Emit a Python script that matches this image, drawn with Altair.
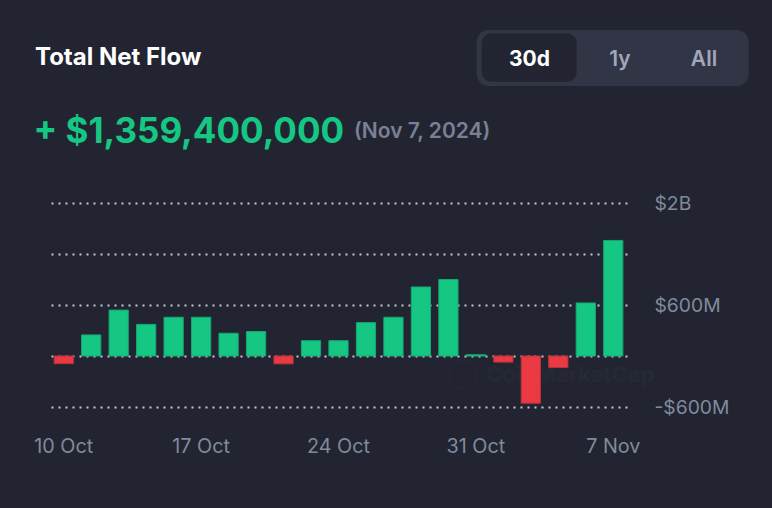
import altair as alt
import pandas as pd

# ---------------- data ----------------
days = ["10 Oct", "11 Oct", "14 Oct", "15 Oct", "16 Oct", "17 Oct", "18 Oct",
        "21 Oct", "22 Oct", "23 Oct", "24 Oct", "25 Oct", "28 Oct", "29 Oct",
        "30 Oct", "31 Oct", "1 Nov", "4 Nov", "5 Nov", "6 Nov", "7 Nov"]
net_flow = [-90e6, 248e6, 540e6, 372e6, 456e6, 456e6, 268e6,
            288e6, -92e6, 180e6, 180e6, 393e6, 456e6, 812e6,
            900e6, 15e6, -72e6, -556e6, -136e6, 624e6, 1359.4e6]
x_tick_labels = ["10 Oct", "17 Oct", "24 Oct", "31 Oct", "7 Nov"]
y_tick_values = [-6e8, 0, 6e8, 1.2e9, 1.8e9]
y_tick_labels = ["-$600M", "", "$600M", "", "$2B"]
y_domain = [-6e8, 1.8e9]

title_text = "Total Net Flow"
headline_value = "+ $1,359,400,000"
headline_date = "(Nov 7, 2024)"
toggle_labels = ["30d", "1y", "All"]
watermark = "CoinMarketCap"

BG = "#222531"
GREEN = "#16c784"
RED = "#ea3943"
GRAY = "#808a9d"
FONT = "Inter"

df = pd.DataFrame({"day": days, "flow": net_flow})
df["sign"] = ["pos" if v >= 0 else "neg" for v in net_flow]

label_expr = " : ".join(
    f"datum.value == {v} ? '{l}'" for v, l in zip(y_tick_values, y_tick_labels)
) + " : ''"

base = alt.Chart(df)

bars = base.mark_bar(strokeWidth=1).encode(
    x=alt.X("day:N", sort=days, scale=alt.Scale(paddingInner=0.3),
            axis=alt.Axis(values=x_tick_labels, title=None, labelAngle=0,
                          ticks=False, tickSize=0, domain=False,
                          labelPadding=29, labelFontSize=19.8, labelColor=GRAY,
                          labelFont=FONT, grid=False)),
    y=alt.Y("flow:Q", scale=alt.Scale(domain=y_domain, nice=False, zero=True),
            axis=alt.Axis(values=y_tick_values, orient="right", title=None,
                          labelExpr=label_expr, ticks=False, tickSize=0,
                          domain=False, labelPadding=27, labelFontSize=19.3,
                          labelColor=GRAY, labelFont=FONT, labelAlign="left",
                          grid=True, gridDash=[2, 5], gridColor="#d8dbe1",
                          gridWidth=1.8, gridOpacity=0.9)),
    y2=alt.datum(0),
    color=alt.Color("sign:N", scale=alt.Scale(domain=["pos", "neg"], range=[GREEN, RED]), legend=None),
    stroke=alt.Stroke("sign:N", scale=alt.Scale(domain=["pos", "neg"], range=["#14a873", "#b8333b"]), legend=None),
)

def one(text):
    return alt.Chart(pd.DataFrame({"t": [text]}))

# watermark (behind bars)
WM = "#262935"
wm_text = one(watermark).mark_text(align="left", baseline="middle", font=FONT,
                                   fontSize=22, fontWeight="bold", color=WM).encode(
    x=alt.value(436), y=alt.value(172), text="t:N")
wm_logo = one(watermark).mark_point(shape="circle", size=750, filled=False,
                                    strokeWidth=3, color=WM).encode(
    x=alt.value(413), y=alt.value(172))

title = one(title_text).mark_text(align="left", baseline="alphabetic", font=FONT,
                                  fontSize=24, fontWeight="bold", color="#ffffff").encode(
    x=alt.value(-15), y=alt.value(-138), text="t:N")

toggle_bg = one("bg").mark_rect(cornerRadius=12, color="#323546").encode(
    x=alt.value(426.7), x2=alt.value(698.7), y=alt.value(-173), y2=alt.value(-117))
toggle_active = one("act").mark_rect(cornerRadius=10, color=BG).encode(
    x=alt.value(431.7), x2=alt.value(526.7), y=alt.value(-169.7), y2=alt.value(-121.3))

t30 = one(toggle_labels[0]).mark_text(align="center", baseline="alphabetic", font=FONT,
                                      fontSize=21, fontWeight="bold", color="#ffffff").encode(
    x=alt.value(479.5), y=alt.value(-137.5), text="t:N")
t1y = one(toggle_labels[1]).mark_text(align="center", baseline="alphabetic", font=FONT,
                                      fontSize=21, fontWeight=600, color="#a1a7bb").encode(
    x=alt.value(570), y=alt.value(-137.5), text="t:N")
tall = one(toggle_labels[2]).mark_text(align="center", baseline="alphabetic", font=FONT,
                                       fontSize=21, fontWeight=600, color="#a1a7bb").encode(
    x=alt.value(654), y=alt.value(-137.5), text="t:N")

headline = one(headline_value).mark_text(align="left", baseline="alphabetic", font=FONT,
                                         fontSize=35, fontWeight="bold", color=GREEN).encode(
    x=alt.value(-16.5), y=alt.value(-60.5), text="t:N")
hdate = one(headline_date).mark_text(align="left", baseline="alphabetic", font=FONT,
                                     fontSize=21, fontWeight=600, color="#7a8096").encode(
    x=alt.value(304), y=alt.value(-65.5), text="t:N")

chart = alt.layer(
    wm_logo, wm_text, bars, title, toggle_bg, toggle_active, t30, t1y, tall, headline, hdate
).properties(
    width=577, height=204,
    padding={"left": 50, "top": 203, "right": 145, "bottom": 101},
    autosize=alt.AutoSizeParams(type="none"),
    background=BG,
).configure(font=FONT).configure_view(stroke=None)

chart.save("out.html", embed_options={"renderer": "svg", "actions": False})
